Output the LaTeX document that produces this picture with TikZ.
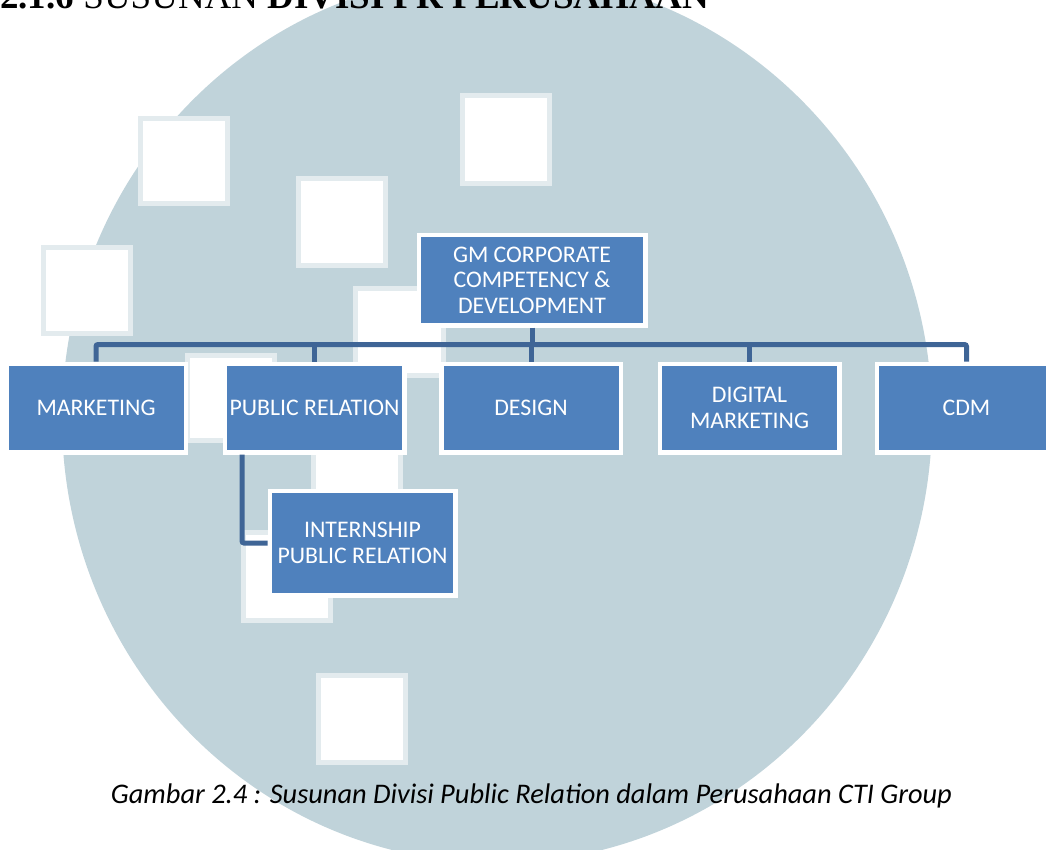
\documentclass[tikz,border=0pt]{standalone}
\usepackage{fontspec}
\setmainfont{Liberation Serif}
\newfontfamily\boxfont{Carlito}
\definecolor{wmgray}{RGB}{192,211,218}
\definecolor{boxblue}{RGB}{79,129,189}
\definecolor{linkblue}{RGB}{63,101,150}
\begin{document}
\begin{tikzpicture}[x = 1pt, y = -1pt,
                    unit/.style = {shape = rectangle,
                                   fill = boxblue,
                                   draw = white,
                                   line width = 4.5pt,
                                   text = white,
                                   inner sep = 0pt,
                                   align = center,
                                   minimum width = 179.5pt,
                                   minimum height = 88.5pt,
                                   font = \boxfont\fontsize{23.8}{25.5}\selectfont},
                    link/.style = {draw = linkblue,
                                   line width = 5pt,
                                   rounded corners = 2pt},
                    wmsq/.style = {fill = white,
                                   draw = white!55!wmgray,
                                   line width = 5pt}]
		\clip (0,0) rectangle (1046,849);
		\fill[wmgray] (497,418) ellipse [x radius = 435pt, y radius = 445pt];
		\path[wmsq] (140,118) rectangle (227,203);
		\path[wmsq] (43,247) rectangle (130,333);
		\path[wmsq] (298,178) rectangle (385,265);
		\path[wmsq] (462,95) rectangle (549,183);
		\path[wmsq] (355,288) rectangle (443,375);
		\path[wmsq] (187,355) rectangle (274,440);
		\path[wmsq] (313,420) rectangle (400,507);
		\path[wmsq] (243,532) rectangle (330,620);
		\path[wmsq] (318,675) rectangle (405,762);
		\node[anchor = base west, inner sep = 0pt, font = \fontsize{37}{40}\selectfont] (title) at (0,8) {\textbf{2.1.6} SUSUNAN \textbf{DIVISI PR PERUSAHAAN}};
		\node[unit, minimum width = 226.5pt, minimum height = 90.5pt] (gm) at (532,280) {GM CORPORATE\\COMPETENCY \&\\DEVELOPMENT};
		\node[unit] (mkt) at (96,408) {MARKETING};
		\node[unit] (pr) at (314.5,408) {PUBLIC RELATION};
		\node[unit] (dsg) at (531,408) {DESIGN};
		\node[unit] (dm) at (749.5,408) {DIGITAL\\MARKETING};
		\node[unit] (cdm) at (966.5,408) {CDM};
		\node[unit, minimum width = 185.5pt, minimum height = 104.5pt] (intern) at (362.5,543) {INTERNSHIP\\PUBLIC RELATION};
		\coordinate (bar) at (0,344.5);
		\draw[link] (mkt.north) -- (mkt.north |- bar) -| (cdm.north);
		\draw[link] (gm.south) -- (gm.south |- bar);
		\draw[link] (pr.north) -- (pr.north |- bar);
		\draw[link] (dsg.north) -- (dsg.north |- bar);
		\draw[link] (dm.north) -- (dm.north |- bar);
		\draw[link] ([xshift = 19.5pt]pr.south west) |- (intern.west);
		\node[anchor = base, inner sep = 0pt, font = \boxfont\itshape\fontsize{28.4}{31}\selectfont] (caption) at (531.5,803) {Gambar 2.4 : Susunan Divisi Public Relation dalam Perusahaan CTI Group};
	\end{tikzpicture}
\end{document}
